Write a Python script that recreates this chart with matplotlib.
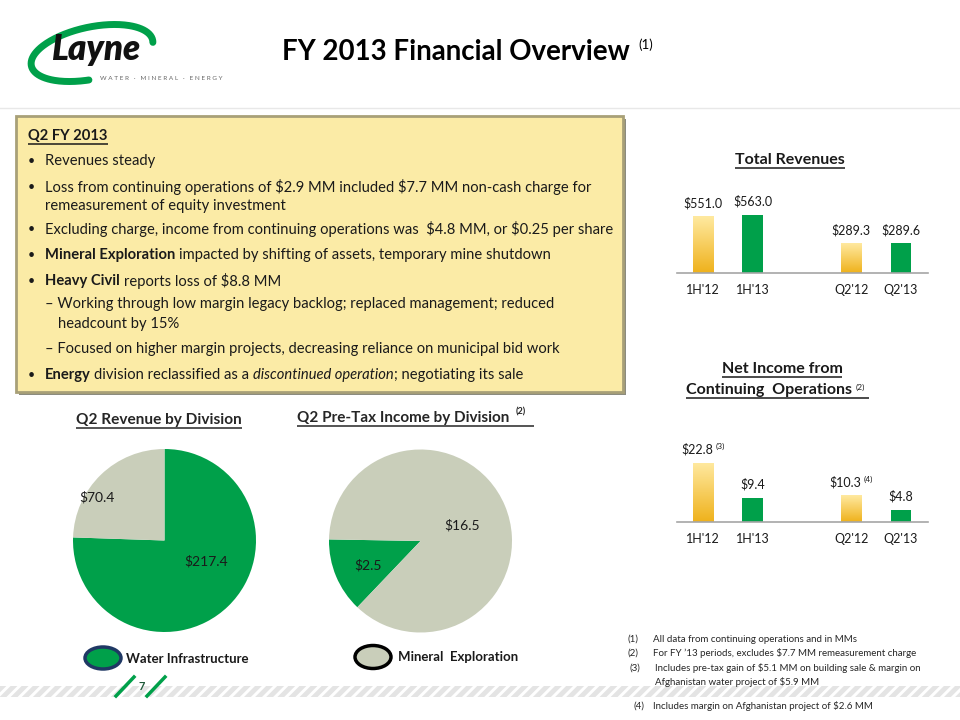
import numpy as np
import matplotlib
matplotlib.use('Agg')
import matplotlib.pyplot as plt
from matplotlib.patches import Rectangle, Ellipse
from matplotlib.colors import LinearSegmentedColormap

plt.rcParams['font.family'] = ['Lato', 'DejaVu Sans']
plt.rcParams['text.parse_math'] = False   # plenty of "$" in this slide

# ---- data (US$ MM) ----
periods = ["1H'12", "1H'13", "Q2'12", "Q2'13"]
revenues = [551.0, 563.0, 289.3, 289.6]
net_income = [22.8, 9.4, 10.3, 4.8]
income_notes = ['(3)', '', '(4)', '']
divisions = ['Water Infrastructure', 'Mineral Exploration']
q2_revenue = [217.4, 70.4]
q2_pretax = [2.5, 16.5]

GREEN = '#00A04A'
GREY = '#C9CEBA'
INK = '#1A1A1A'
gold = LinearSegmentedColormap.from_list('gold', ['#EFB21C', '#FFE9A0'])

fig = plt.figure(figsize=(9.6, 7.2), dpi=100)
fig.patch.set_facecolor('white')
ov = fig.add_axes([0, 0, 1, 1])          # pixel overlay: x 0..960, y 0..720 top-down
ov.set_xlim(0, 960)
ov.set_ylim(720, 0)
ov.axis('off')
R = fig.canvas.get_renderer()


def wid(t):
    return t.get_window_extent(R).width


def measure(s, **kw):                     # width of a throwaway text
    t = ov.text(0, 0, s, **kw)
    w = wid(t)
    t.remove()
    return w


def fit(t, target):                       # rescale a text so it spans target px
    t.set_fontsize(t.get_fontsize() * target / wid(t))
    return t


def underline(t, lw=1.1, color=INK, extra=0):
    bb = t.get_window_extent(R)
    y = 720 - bb.y0 + 0.5
    ov.plot([bb.x0, bb.x1 + extra], [y, y], color=color, lw=lw, solid_capstyle='butt')


def runs(x, y, parts, size):
    sp = measure('x x', fontsize=size) - measure('xx', fontsize=size)
    for s, w, st in parts:
        x += (len(s) - len(s.lstrip(' '))) * sp
        t = ov.text(x, y, s.strip(' '), fontsize=size, fontweight=w, fontstyle=st,
                    va='center', ha='left', color=INK)
        x += wid(t)
        x += (len(s) - len(s.rstrip(' '))) * sp
    return x


# ---- header ----
tt = ov.text(282, 52, 'FY 2013 Financial Overview', fontsize=17, fontweight='bold',
             va='center', ha='left', color='black')
fit(tt, 348)
ov.text(638, 45, '(1)', fontsize=9.5, va='center', ha='left', color='black')
ov.plot([0, 960], [108, 108], color='#E8E8E8', lw=1)

# logo
t = np.radians(np.linspace(-5, 262, 200))
phi = np.radians(12)
a, b = 62, 26
ex = 92 + a * np.cos(t) * np.cos(phi) - b * np.sin(t) * np.sin(phi)
ey = 53 - (a * np.cos(t) * np.sin(phi) + b * np.sin(t) * np.cos(phi))
ov.plot(ex, ey, color=GREEN, lw=5, solid_capstyle='round')
ov.text(96, 50, 'Layne', fontsize=25, fontweight='heavy', fontstyle='italic',
        va='center', ha='center', color='#111111')
ov.text(100, 79, 'W A T E R   ·   M I N E R A L   ·   E N E R G Y', fontsize=4.6,
        va='center', ha='left', color='#666666')

# ---- highlights box ----
ov.add_patch(Rectangle((19, 119), 607, 276, facecolor='#8C8C80', edgecolor='none'))
ov.add_patch(Rectangle((16, 116), 607, 276, facecolor='#FBEBA6', edgecolor='#A8A078', lw=2))

longest = 'Excluding charge, income from continuing operations was  $4.8 MM, or $0.25 per share'
fs = 10 * 566 / measure(longest, fontsize=10)

h = ov.text(28, 136, 'Q2 FY 2013', fontsize=fs, fontweight='bold', va='center', color=INK)
underline(h)
N, B, I = 'normal', 'bold', 'italic'
lines = [
    (161, True, 45, [('Revenues steady', N, N)]),
    (187, True, 45, [('Loss from continuing operations of $2.9 MM included $7.7 MM non-cash charge for', N, N)]),
    (206, False, 45, [('remeasurement of equity investment', N, N)]),
    (229, True, 45, [(longest, N, N)]),
    (255, True, 45, [('Mineral Exploration', B, N), (' impacted by shifting of assets, temporary mine shutdown', N, N)]),
    (281, True, 45, [('Heavy Civil', B, N), (' reports loss of $8.8 MM', N, N)]),
    (304, False, 45, [('– Working through low margin legacy backlog; replaced management; reduced', N, N)]),
    (324, False, 58, [('headcount by 15%', N, N)]),
    (349, False, 45, [('– Focused on higher margin projects, decreasing reliance on municipal bid work', N, N)]),
    (375, True, 45, [('Energy', B, N), (' division reclassified as a ', N, N),
                     ('discontinued operation', N, I), ('; negotiating its sale', N, N)]),
]
for y, bullet, x0, parts in lines:
    if bullet:
        ov.text(31, y, '•', fontsize=fs * 0.85, va='center', ha='center', color=INK)
    runs(x0, y, parts, fs)

# ---- bar charts ----
pos = [0, 1, 3, 4]
bw = 0.41


def bar_panel(rect, values, ymax, fmt, notes=None):
    ax = fig.add_axes(rect)
    bars = ax.bar(pos, values, width=bw, color=[GREEN] * 4, zorder=2)
    for k in (0, 2):
        bars[k].set_facecolor('none')
        x0 = bars[k].get_x()
        im = ax.imshow(np.linspace(0, 1, 64).reshape(-1, 1), cmap=gold, origin='lower',
                       extent=(x0, x0 + bw, 0, values[k]), aspect='auto', zorder=2)
        im.set_clip_path(bars[k])
    ax.set_xlim(-0.53, 4.55)
    ax.set_ylim(0, ymax)
    for s in ('top', 'left', 'right'):
        ax.spines[s].set_visible(False)
    ax.spines['bottom'].set_color('#A6A6A6')
    ax.spines['bottom'].set_linewidth(1.2)
    ax.set_yticks([])
    ax.set_xticks(pos)
    ax.set_xticklabels(periods, fontsize=9, color=INK)
    ax.tick_params(axis='x', length=0, pad=8)
    ax.patch.set_alpha(0)
    for i, v in enumerate(values):
        note = notes[i] if notes else ''
        dx = -4.5 if note else 0
        ax.annotate(fmt.format(v), (pos[i], v), xytext=(dx, 9.5), textcoords='offset points',
                    ha='center', va='center', fontsize=9, color=INK)
        if note:
            ax.annotate(note, (pos[i], v), xytext=(9, 11.5), textcoords='offset points',
                        ha='left', va='center', fontsize=6, color=INK)
    return ax


bar_panel([677 / 960, 447 / 720, 251 / 960, 66 / 720], revenues, 640, '${:.1f}')
bar_panel([677 / 960, 198 / 720, 251 / 960, 65 / 720], net_income, 25, '${:.1f}', income_notes)

t1 = ov.text(790, 160, 'Total Revenues', fontsize=11.5, fontweight='bold', va='center',
             ha='center', color=INK)
underline(t1)
t2 = ov.text(782, 369, 'Net Income from', fontsize=11.5, fontweight='bold', va='center',
             ha='center', color=INK)
underline(t2)
t3 = ov.text(686, 390, 'Continuing  Operations', fontsize=11.5, fontweight='bold', va='center',
             ha='left', color=INK)
ov.text(wid(t3) + 690, 387, '(2)', fontsize=6, va='center', ha='left', color=INK)
underline(t3, extra=17)


# ---- pies ----
def pie_panel(cx, cy, values, start, cw, labels_at):
    r = 91.5
    ax = fig.add_axes([(cx - r) / 960, (720 - cy - r) / 720, 2 * r / 960, 2 * r / 720])
    ax.pie(values, colors=[GREEN, GREY], startangle=start, counterclock=not cw,
           wedgeprops=dict(linewidth=0))
    ax.set_xlim(-1, 1)
    ax.set_ylim(-1, 1)
    for v, (lx, ly) in zip(values, labels_at):
        ax.text(lx, ly, '${:.1f}'.format(v), fontsize=10, ha='center', va='center', color=INK)
    return ax


pie_panel(164.5, 540.5, q2_revenue, 90, True, [(0.45, -0.23), (-0.74, 0.47)])
pie_panel(420.5, 541, q2_pretax, 179, False, [(-0.57, -0.27), (0.46, 0.17)])

p1 = ov.text(76, 420, 'Q2 Revenue by Division', fontsize=10, fontweight='bold', va='center',
             ha='left', color='#262626')
fit(p1, 166)
underline(p1, color='#262626')
p2 = ov.text(297, 418, 'Q2 Pre-Tax Income by Division', fontsize=10, fontweight='bold',
             va='center', ha='left', color='#262626')
fit(p2, 213)
ov.text(516, 412, '(2)', fontsize=6.5, fontweight='bold', va='center', ha='left', color='#262626')
underline(p2, color='#262626', extra=25)

# legend
ov.add_patch(Ellipse((103, 658), 36, 22, facecolor=GREEN, edgecolor='#1F3864', lw=2.5))
ov.text(126, 659, divisions[0], fontsize=9.5, fontweight='bold', va='center', color=INK)
ov.add_patch(Ellipse((373, 657), 36, 23, facecolor=GREY, edgecolor='black', lw=2.5))
ov.text(398, 657, divisions[1].replace(' ', '  '), fontsize=9.5, fontweight='bold',
        va='center', color=INK)

# ---- footer ----
plt.rcParams['hatch.linewidth'] = 3.5
plt.rcParams['hatch.color'] = '#E4E4E4'
ov.add_patch(Rectangle((0, 686), 960, 11, facecolor='white', edgecolor='#E4E4E4',
                       hatch='///', lw=0))
ov.plot([116, 134], [696, 677], color=GREEN, lw=2.5)
ov.plot([147, 165], [696, 677], color=GREEN, lw=2.5)
ov.text(142, 687, '7', fontsize=8, fontweight='bold', ha='center', va='center', color='#1F5A3A')

notes = [
    (628, 653, 639, '(1)', 'All data from continuing operations and in MMs'),
    (628, 653, 653, '(2)', 'For FY ’13 periods, excludes $7.7 MM remeasurement charge'),
    (630, 655, 668, '(3)', 'Includes pre-tax gain of $5.1 MM on building sale & margin on'),
    (None, 655, 682, '', 'Afghanistan water project of $5.9 MM'),
    (633, 653, 706, '(4)', 'Includes margin on Afghanistan project of $2.6 MM'),
]
for lx, tx, y, lab, txt in notes:
    if lx is not None:
        ov.text(lx, y, lab, fontsize=7, va='center', ha='left', color='#262626')
    ov.text(tx, y, txt, fontsize=7, va='center', ha='left', color='#262626')

fig.savefig('out.png', dpi=100)
